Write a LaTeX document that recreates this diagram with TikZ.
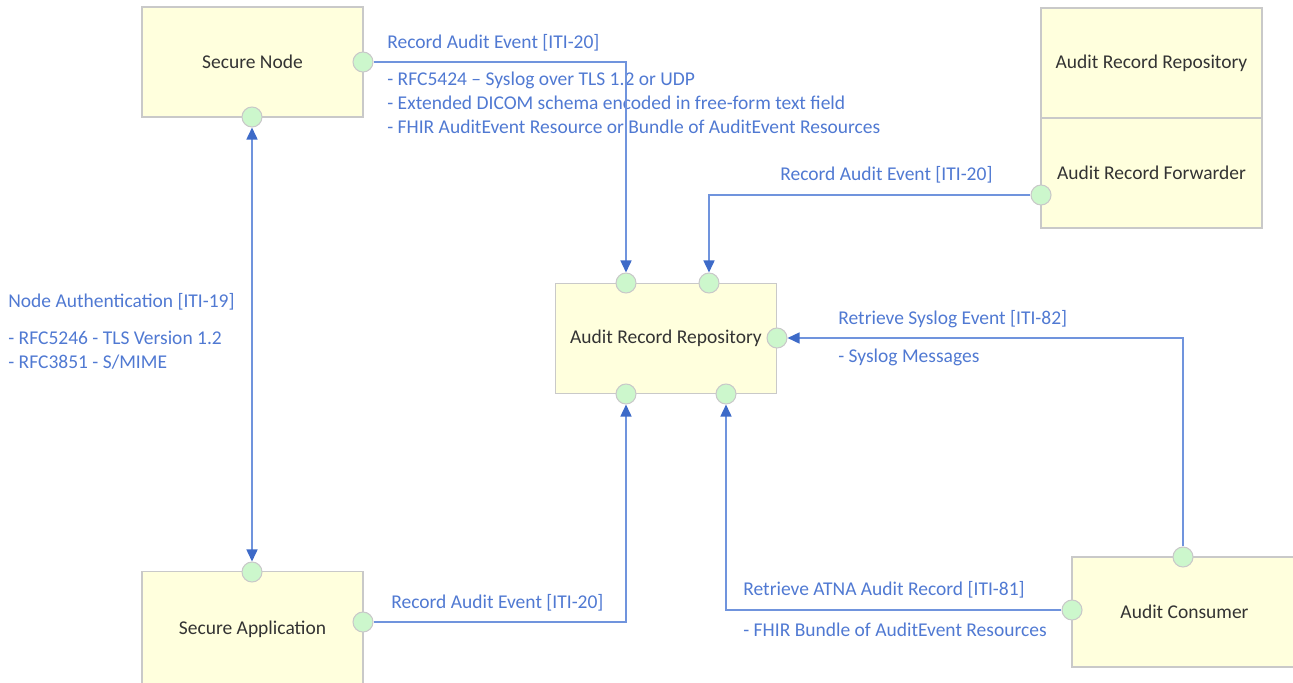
\documentclass[tikz,border=0pt]{standalone}
\usepackage{fontspec}
\setmainfont{Carlito}
\usetikzlibrary{arrows.meta}
\definecolor{boxfill}{HTML}{FFFFDD}
\definecolor{boxline}{HTML}{C9C9C9}
\definecolor{portfill}{HTML}{CCF7CC}
\definecolor{linkblue}{HTML}{7094DD}
\definecolor{tipblue}{HTML}{3D6AC8}
\definecolor{labelblue}{HTML}{5079D2}
\begin{document}
\begin{tikzpicture}[
	x=0.02cm, y=-0.02cm,
	font=\fontsize{11.1}{13.7}\selectfont,
	actor/.style={
		rectangle,
		draw=boxline,
		fill=boxfill,
		line width=0.7pt,
		minimum width=4.42cm,
		minimum height=2.2cm,
		text=black!80,
	},
	port/.style={
		circle,
		draw=boxline,
		fill=portfill,
		line width=0.6pt,
		minimum size=0.4cm,
		inner sep=0pt,
	},
	link/.style={% blue connectors with filled tips
		draw=linkblue,
		line width=0.9pt,
		-{Triangle[color=tipblue, length=0.24cm, width=0.22cm]},
	},
	tag/.style={
		text=labelblue,
		anchor=west,
		align=left,
		inner sep=0pt,
	},
]
	\useasboundingbox (0,0) rectangle (1293,682);
	\clip (0,0) rectangle (1293,682);

	\node [actor] (sn) at (252.5,62) {Secure Node};
	\node [actor, minimum height=2.3cm] (sa) at (252.5,629) {Secure Application};
	\node [actor] (arr) at (666,338.5) {Audit Record Repository};
	\node [actor] (arr2) at (1151.5,63) {Audit Record Repository};
	\node [actor] (arf) at (1151.5,173) {Audit Record Forwarder};
	\node [actor, minimum width=4.5cm] (ac) at (1184.5,612) {Audit Consumer};

	\node [port] (snR) at (363,62) {};
	\node [port] (snB) at (252,117) {};
	\node [port] (saT) at (252,572) {};
	\node [port] (saR) at (363,622) {};
	\node [port] (arrT1) at (626,283) {};
	\node [port] (arrT2) at (709,283) {};
	\node [port] (arrR) at (777,338) {};
	\node [port] (arrB1) at (626,394) {};
	\node [port] (arrB2) at (726,394) {};
	\node [port] (arfL) at (1041,195) {};
	\node [port] (acT) at (1183,557) {};
	\node [port] (acL) at (1072,610) {};

	\node [tag] (snlbl) at (387,43) {Record Audit Event [ITI-20]};
	\node [tag] (snnote) at (387,103) {- RFC5424 -- Syslog over TLS 1.2 or UDP\\
		- Extended DICOM schema encoded in free-form text field\\
		- FHIR AuditEvent Resource or Bundle of AuditEvent Resources};
	\node [tag] (arflbl) at (780,175) {Record Audit Event [ITI-20]};
	\node [tag] (authlbl) at (8,302) {Node Authentication [ITI-19]};
	\node [tag] (authnote) at (8,350) {- RFC5246 - TLS Version 1.2\\- RFC3851 - S/MIME};
	\node [tag] (salbl) at (391,603) {Record Audit Event [ITI-20]};
	\node [tag] (aclbl) at (743,590) {Retrieve ATNA Audit Record [ITI-81]};
	\node [tag] (acnote) at (743,630) {- FHIR Bundle of AuditEvent Resources};
	\node [tag] (sysl) at (838,319) {Retrieve Syslog Event [ITI-82]};
	\node [tag] (sysnote) at (838,357) {- Syslog Messages};

	\draw [link] (snR) -| (arrT1);
	\draw [link] (arfL) -| (arrT2);
	\draw [link, {Triangle[color=tipblue, length=0.24cm, width=0.22cm]}-{Triangle[color=tipblue, length=0.24cm, width=0.22cm]}] (snB) -- (saT);
	\draw [link] (saR) -| (arrB1);
	\draw [link] (acL) -| (arrB2);
	\draw [link] (acT) |- (arrR);
\end{tikzpicture}
\end{document}
